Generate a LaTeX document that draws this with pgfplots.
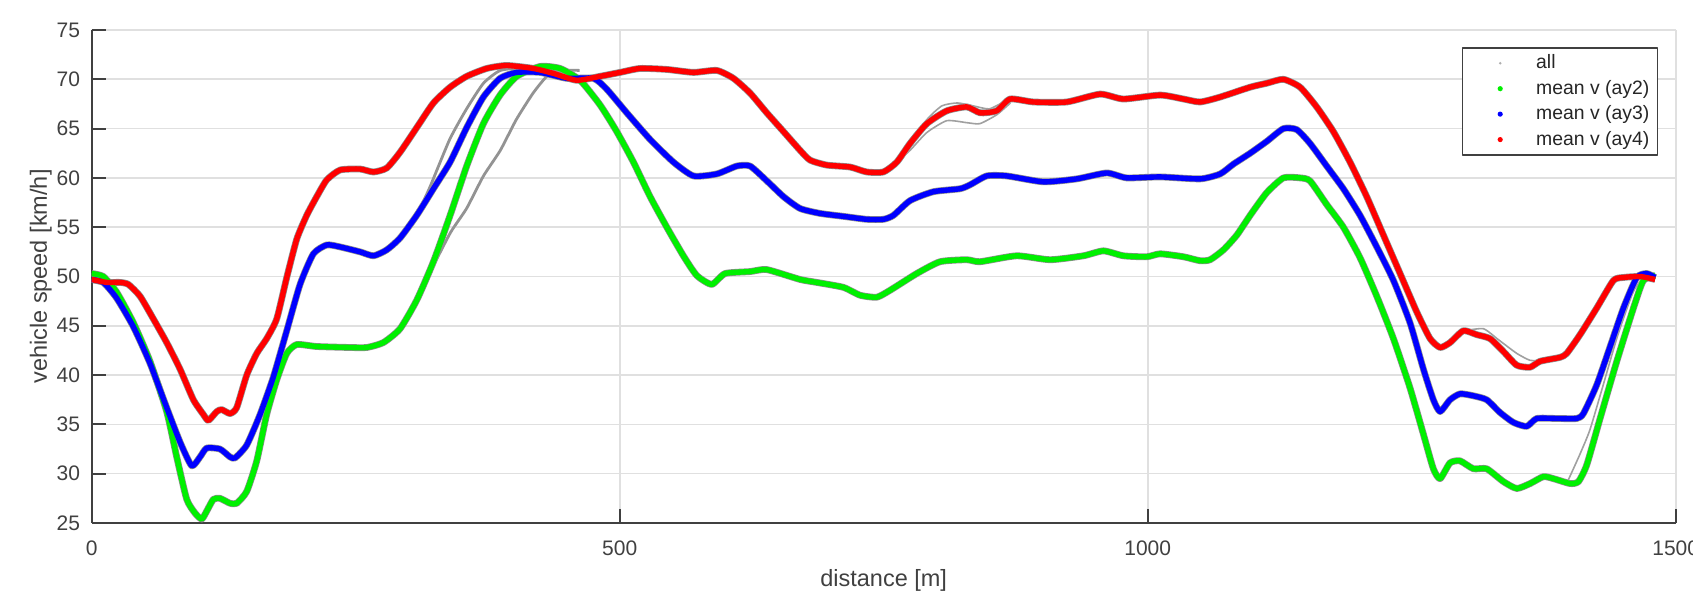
\documentclass[border=0pt]{standalone}
\usepackage{fontspec}
\setmainfont{Liberation Sans}
\usepackage{pgfplots}
\usepackage{pgfplotstable}
\pgfplotsset{compat=1.18}
\definecolor{mgreen}{RGB}{0,240,0}
\definecolor{mblue}{RGB}{0,0,255}
\definecolor{mred}{RGB}{255,0,0}
\definecolor{axgray}{RGB}{64,64,64}
\definecolor{gridgray}{RGB}{224,224,224}
\definecolor{allgray}{RGB}{120,120,120}

\pgfplotstableread{
x y
0 50.3
11 50.0
23.7 48.4
39.5 45.3
55.2 41.4
71 36.3
80.5 31.7
90 27.4
97.9 26.0
104.2 25.4
108.9 26.2
115.2 27.4
121.5 27.5
131 27.0
137.3 27.0
146.8 28.2
156.3 31.3
165.7 36.0
175.2 39.5
184.7 42.2
194.2 43.1
213.1 42.9
244.7 42.8
260.5 42.8
276.2 43.3
292 44.7
307.8 47.6
323.6 51.5
339.4 56.2
355.1 61.2
370.9 65.5
386.7 68.4
402.5 70.3
424.6 71.3
443.5 71.1
462.5 69.9
481.4 67.4
497.2 64.7
513 61.6
528.8 58.1
544.6 55.0
560.3 52.1
573 50.1
587.2 49.2
599.8 50.3
623.5 50.5
639.3 50.7
670.8 49.7
686.6 49.4
711.8 48.9
727.6 48.1
743.4 47.9
756 48.6
781.3 50.3
803.4 51.5
828.7 51.7
841.3 51.5
876 52.1
907.6 51.7
939.1 52.1
958.1 52.6
977 52.1
999.1 52.0
1011.8 52.3
1033.9 52.0
1049.6 51.6
1059.1 51.7
1071.7 52.7
1084.4 54.2
1097 56.2
1112.7 58.5
1128.5 60.0
1144.3 60.0
1153.7 59.7
1169.5 57.3
1185.3 55.0
1201.1 51.9
1216.9 48.0
1232.7 43.7
1248.4 38.7
1261.1 34.0
1270.5 30.5
1276.9 29.5
1286.3 31.1
1295.8 31.3
1308.4 30.5
1321 30.5
1336.8 29.2
1349.5 28.5
1362.1 29.0
1374.7 29.7
1384.2 29.5
1400 29.0
1407.9 29.2
1415.8 30.9
1428.4 35.6
1444.2 41.4
1460 46.8
1469.4 49.6
1480.5 50.1
}\greentab

\pgfplotstableread{
x y
0 49.7
11 49.4
23.7 47.8
39.5 44.9
55.2 41.2
71 36.7
83.7 33.2
94.7 30.8
102.6 31.7
108.9 32.6
121.5 32.5
131 31.7
135.8 31.6
146.8 32.9
159.4 36.0
172 39.8
184.7 44.5
197.3 49.2
209.9 52.3
222.6 53.2
235.2 53.0
254.1 52.5
266.8 52.1
279.4 52.7
292 53.9
307.8 56.2
323.6 58.9
339.4 61.6
355.1 65.1
370.9 68.2
386.7 70.1
402.5 70.7
424.6 70.7
449.9 70.1
475.1 70.1
487.7 69.0
506.7 66.6
528.8 63.9
550.9 61.6
569.8 60.2
591.9 60.4
610.9 61.2
623.5 61.2
639.3 59.7
655.1 58.1
670.8 56.9
689.7 56.4
711.8 56.1
733.9 55.8
749.7 55.8
759.2 56.2
775 57.7
797.1 58.6
822.3 58.9
831.8 59.3
847.6 60.2
866.5 60.2
901.3 59.6
932.8 59.9
961.2 60.5
980.2 60.0
1011.8 60.1
1049.6 59.9
1068.6 60.4
1081.2 61.4
1097 62.5
1112.7 63.7
1128.5 65.0
1141.1 64.9
1153.7 63.5
1169.5 61.2
1185.3 58.9
1201.1 56.2
1216.9 53.0
1232.7 49.6
1248.4 45.3
1261.1 40.6
1270.5 37.5
1276.9 36.3
1286.3 37.5
1295.8 38.1
1308.4 37.9
1321 37.5
1333.7 36.2
1346.3 35.2
1358.9 34.8
1368.4 35.6
1387.3 35.6
1406.3 35.6
1412.6 36.1
1425.2 39.0
1437.9 42.9
1450.5 46.8
1463.1 49.9
1472.6 50.3
1480.5 49.9
}\bluetab

\pgfplotstableread{
x y
0 49.7
14.2 49.4
26.8 49.4
34.7 49.2
45.8 48.0
58.4 45.7
71 43.3
83.7 40.6
96.3 37.5
105.8 36.0
110.5 35.4
118.4 36.3
123.1 36.5
131 36.1
137.3 36.7
146.8 40.0
156.3 42.2
165.7 43.7
175.2 45.7
184.7 49.9
194.2 53.8
203.6 56.2
213.1 58.1
222.6 59.8
235.2 60.8
254.1 60.9
266.8 60.6
279.4 61.0
292 62.6
307.8 65.1
323.6 67.6
339.4 69.2
355.1 70.3
374.1 71.1
393 71.4
418.3 71.1
437.2 70.6
459.3 69.9
481.4 70.3
500.4 70.7
519.3 71.1
544.6 71.0
569.8 70.7
591.9 70.9
607.7 70.1
623.5 68.6
639.3 66.6
655.1 64.7
670.8 62.8
680.3 61.8
696.1 61.3
718.2 61.1
733.9 60.6
749.7 60.6
762.4 61.6
775 63.5
790.8 65.5
809.7 66.8
828.7 67.2
841.3 66.6
857 66.8
869.7 68.0
891.8 67.7
923.4 67.7
955 68.5
977 68.0
1011.8 68.4
1033.9 68.0
1049.6 67.7
1068.6 68.2
1097 69.2
1112.7 69.6
1128.5 70.0
1144.3 69.2
1160 67.2
1175.8 64.7
1191.6 61.6
1207.4 58.1
1223.2 54.2
1239 50.3
1254.8 46.4
1267.4 43.7
1276.9 42.8
1286.3 43.3
1298.9 44.5
1311.6 44.1
1324.2 43.7
1336.8 42.4
1349.5 41.0
1362.1 40.8
1371.6 41.4
1390.5 41.8
1396.8 42.2
1409.4 44.1
1425.2 46.8
1441 49.6
1450.5 49.9
1466.3 50.0
1480.5 49.7
}\redtab

\pgfplotstableread{
x y
305 47.0
323.6 51.1
340 54.5
355 56.9
371 60.2
387 62.8
402 65.9
418 68.6
431 70.3
443 70.9
462 70.9
}\grayA

\pgfplotstableread{
x y
305 55.5
320 59.0
339 63.9
355 67.0
371 69.6
387 70.9
410 71.2
}\grayB

\pgfplotstableread{
x y
762 61.6
775 62.8
790.8 64.6
809.7 65.8
828.7 65.6
841 65.5
857 66.4
870 67.6
}\grayC

\pgfplotstableread{
x y
770 62.5
790 65.8
805 67.3
820 67.6
835 67.3
850 67.0
865 67.8
}\grayCC

\pgfplotstableread{
x y
1398 29.3
1409 31.9
1418.6 34.4
1430 38.5
1445 44.0
1460 48.5
1472 50.2
}\grayD

\pgfplotstableread{
x y
1300 44.5
1318 44.7
1332 43.6
1349.5 42.2
1362 41.5
1372 41.5
}\grayE

\begin{document}
\begin{tikzpicture}
\begin{axis}[
  scale only axis,
  width=792pt, height=246.5pt,
  xmin=0, xmax=1500, ymin=25, ymax=75,
  xtick={0,500,1000,1500},
  ytick={25,30,35,40,45,50,55,60,65,70,75},
  axis x line*=bottom, axis y line*=left,
  axis line style={axgray, line width=1pt, -},
  major tick style={axgray, line width=1pt},
  major tick length=7pt, tick align=inside,
  grid=major,
  major grid style={gridgray, line width=0.8pt},
  ticklabel style={font=\fontsize{10.5}{12}\selectfont, text=axgray},
  yticklabel style={xshift=-2.3pt},
  xticklabel style={yshift=-5.3pt},
  /pgf/number format/assume math mode=true,
  /pgf/number format/1000 sep={},
  xlabel={distance [m]},
  ylabel={vehicle speed [km/h]},
  label style={font=\fontsize{11.75}{14}\selectfont, text=axgray},
  xlabel style={at={(axis description cs:0.5,-0.1156)}, anchor=center},
  ylabel style={at={(axis description cs:-0.0322,0.5)}, anchor=center},
  legend cell align=left,
  legend style={at={(axis description cs:1,1)}, anchor=north east,
    xshift=-8.75pt, yshift=-8.65pt,
    draw=axgray, line width=0.8pt, fill=white,
    font=\fontsize{9.7}{11}\selectfont, text=black!85,
    inner xsep=2pt, inner ysep=1.2pt,
    nodes={inner ysep=2.1pt}},
  line join=round,
]
% gray "all" traces
\addplot[forget plot, allgray!85, line width=3.4pt, smooth, tension=0.35] table {\greentab};
\addplot[forget plot, allgray!85, line width=3.4pt, smooth, tension=0.35] table {\bluetab};
\addplot[forget plot, allgray!85, line width=3.4pt, smooth, tension=0.35] table {\redtab};
\addplot[forget plot, allgray!80, line width=1.4pt, smooth, tension=0.35] table {\grayA};
\addplot[forget plot, allgray!80, line width=1.4pt, smooth, tension=0.35] table {\grayB};
\addplot[forget plot, allgray!70, line width=0.8pt, smooth, tension=0.35] table {\grayC};
\addplot[forget plot, allgray!70, line width=0.8pt, smooth, tension=0.35] table {\grayCC};
\addplot[forget plot, allgray!70, line width=0.8pt, smooth, tension=0.35] table {\grayD};
\addplot[forget plot, allgray!70, line width=0.8pt, smooth, tension=0.35] table {\grayE};
% means
\addplot[forget plot, mgreen, line width=2.7pt, smooth, tension=0.35] table {\greentab};
\addplot[forget plot, mblue, line width=2.7pt, smooth, tension=0.35] table {\bluetab};
\addplot[forget plot, mred, line width=2.7pt, smooth, tension=0.35] table {\redtab};
% legend
\addlegendimage{legend image code/.code={\path[draw=none] (0pt,0pt) -- (32.8pt,0pt); \fill[draw=none, allgray!60] (16.8pt,0pt) circle (0.7pt);}}
\addlegendentry{all}
\addlegendimage{legend image code/.code={\path[draw=none] (0pt,0pt) -- (32.8pt,0pt); \fill[draw=none, mgreen] (16.8pt,0pt) circle (1.3pt);}}
\addlegendentry{mean v (ay2)}
\addlegendimage{legend image code/.code={\path[draw=none] (0pt,0pt) -- (32.8pt,0pt); \fill[draw=none, mblue] (16.8pt,0pt) circle (1.3pt);}}
\addlegendentry{mean v (ay3)}
\addlegendimage{legend image code/.code={\path[draw=none] (0pt,0pt) -- (32.8pt,0pt); \fill[draw=none, mred] (16.8pt,0pt) circle (1.3pt);}}
\addlegendentry{mean v (ay4)}
\end{axis}
\pgfresetboundingbox
\path[use as bounding box] ([xshift=-45.85pt,yshift=-40.5pt]current axis.south west) rectangle ([xshift=8.65pt,yshift=15pt]current axis.north east);
\end{tikzpicture}
\end{document}
